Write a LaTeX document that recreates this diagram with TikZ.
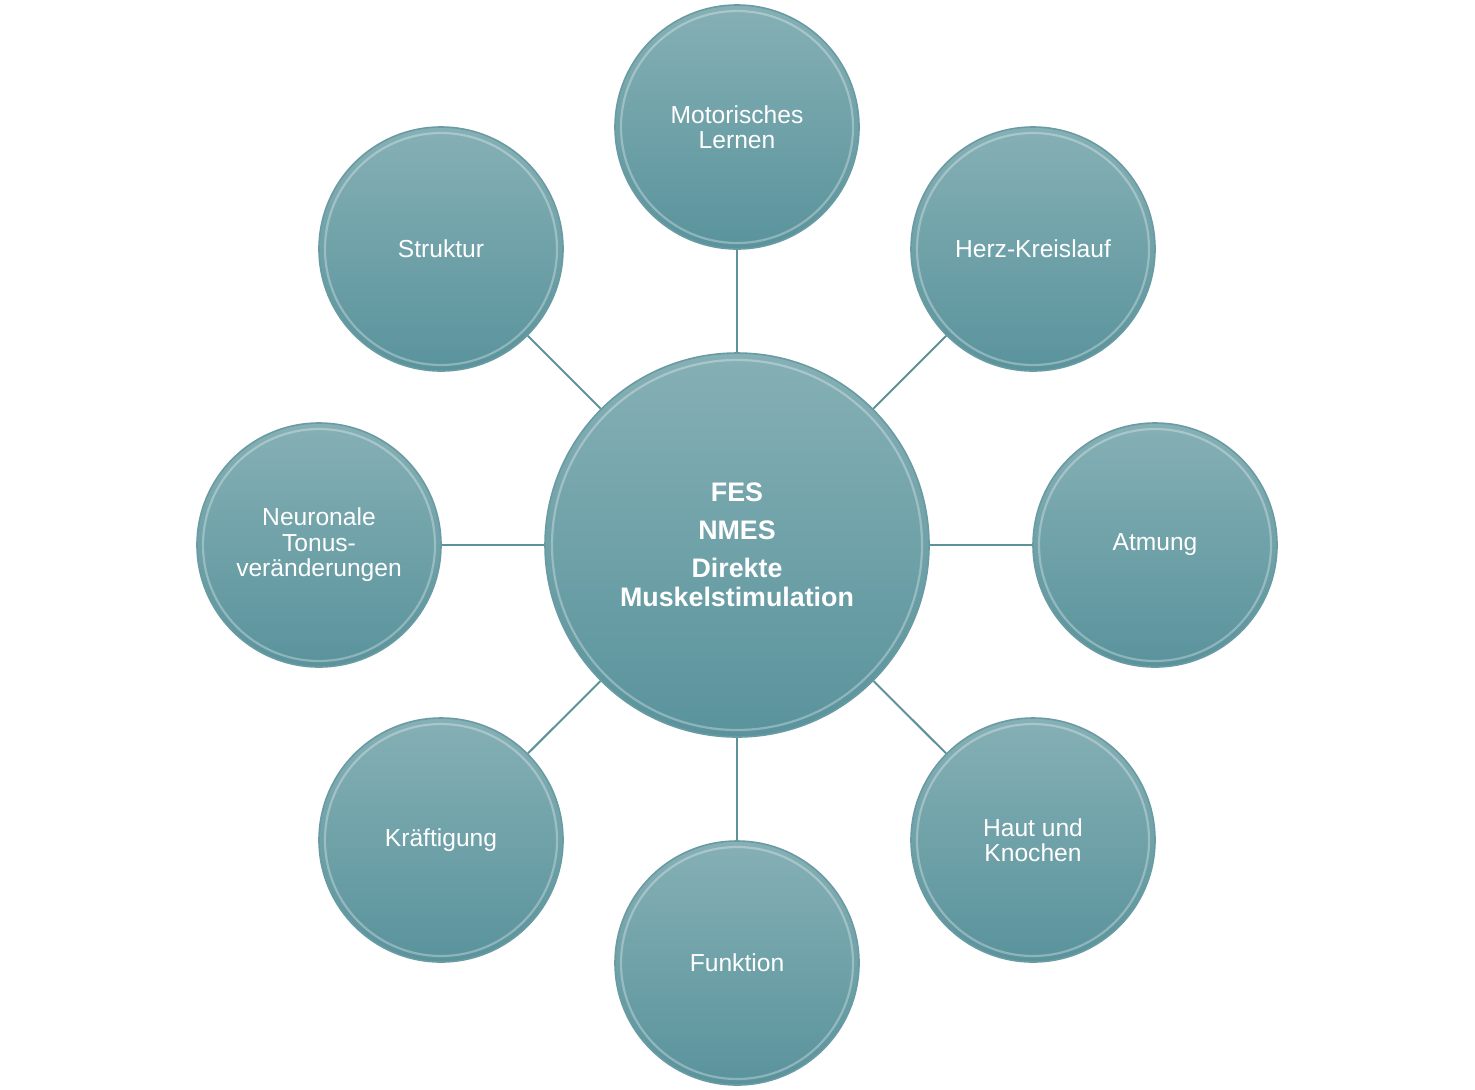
\documentclass[tikz,border=0pt]{standalone}
\usepackage{fontspec}
\setmainfont{Liberation Sans}
\usetikzlibrary{backgrounds}
\definecolor{linec}{HTML}{5E9299}
\definecolor{topc}{HTML}{85B0B5}
\definecolor{botc}{HTML}{5A939C}
\definecolor{edgec}{HTML}{6A9BA2}
\tikzset{
  bub/.style={circle, draw=edgec, line width=0.8pt, top color=topc, bottom color=botc,
    text=white, align=center, inner sep=0pt, minimum size=122pt,
    font=\fontsize{12.3pt}{12.8pt}\selectfont},
  hub/.style={bub, minimum size=192pt, font=\fontsize{13.4pt}{14.5pt}\selectfont\bfseries},
  rim/.style={draw=white, draw opacity=0.3, line width=1.1pt},
  conn/.style={draw=linec, line width=1pt}
}
\begin{document}
\begin{tikzpicture}[x=0.5pt,y=-0.5pt]
\useasboundingbox (0,0) rectangle (1475,1089);
\node[hub] (c) at (737,545) {FES\\[4.5pt]NMES\\[4.5pt]Direkte\\Muskelstimulation};
\node[bub] (n1) at (737,127) {Motorisches\\Lernen};
\node[bub] (n2) at (1033,249) {Herz-Kreislauf};
\node[bub] (n3) at (1155,545) {\raisebox{-1.5pt}{Atmung}};
\node[bub] (n4) at (1033,840) {Haut und\\Knochen};
\node[bub] (n5) at (737,963) {Funktion};
\node[bub] (n6) at (441,840) {\raisebox{-1.5pt}{Kräftigung}};
\node[bub] (n7) at (319,545) {Neuronale\\Tonus-\\veränderungen};
\node[bub] (n8) at (441,249) {Struktur};
\foreach \n in {n1,n2,n3,n4,n5,n6,n7,n8}{
  \draw[rim] (\n.center) circle (116);
}
\draw[rim] (c.center) circle (185);
\begin{scope}[on background layer]
\foreach \n in {n1,n2,n3,n4,n5,n6,n7,n8}{
  \draw[conn] (c) -- (\n);
}
\end{scope}
\end{tikzpicture}
\end{document}
